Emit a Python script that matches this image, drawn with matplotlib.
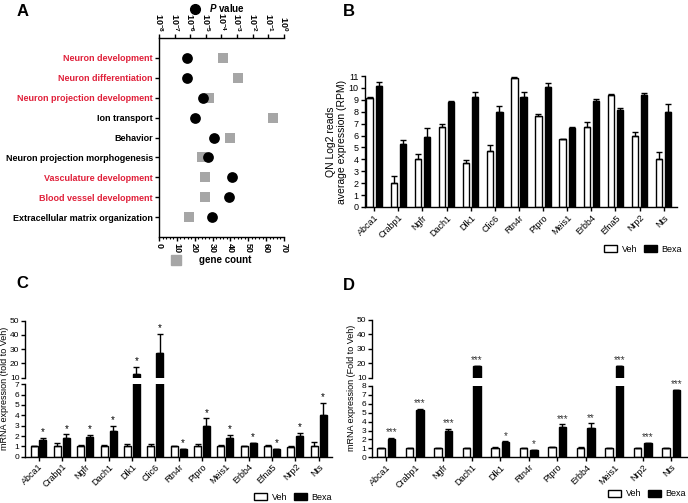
import numpy as np
import matplotlib
matplotlib.use("Agg")
from matplotlib import pyplot as plt
from matplotlib.patches import Patch
from matplotlib.lines import Line2D
from matplotlib.ticker import LogLocator, MultipleLocator, NullFormatter

plt.rcParams["font.family"] = ["Liberation Sans", "DejaVu Sans"]
plt.rcParams["mathtext.fontset"] = "custom"
plt.rcParams["mathtext.rm"] = "Liberation Sans:bold"
plt.rcParams["mathtext.it"] = "Liberation Sans:italic:bold"
plt.rcParams["axes.linewidth"] = 1.0

# ---- panel A: GO terms ----
go_terms = [
    "Neuron development",
    "Neuron differentiation",
    "Neuron projection development",
    "Ion transport",
    "Behavior",
    "Neuron projection morphogenesis",
    "Vasculature development",
    "Blood vessel development",
    "Extracellular matrix organization",
]
go_highlight = [True, True, True, False, False, False, True, True, False]
go_pvals = [5.9e-7, 5.9e-7, 6.3e-6, 2.0e-6, 3.2e-5, 1.3e-5, 4.5e-4, 2.9e-4, 2.3e-5]
go_gene_count = [36, 44, 28, 64, 40, 24, 26, 26, 17]

# ---- panel B: RNA-seq ----
genes_b = ["Abca1", "Crabp1", "Ngfr", "Dach1", "Dlk1", "Clic6", "Rtn4r",
           "Ptpro", "Meis1", "Erbb4", "Efna5", "Nrp2", "Nts"]
veh_b = [9.15, 2.05, 4.05, 6.75, 3.7, 4.7, 10.85, 7.65, 5.7, 6.75, 9.4, 5.95, 4.05]
veh_b_err = [0.1, 0.55, 0.4, 0.2, 0.25, 0.5, 0.05, 0.2, 0.05, 0.35, 0.1, 0.35, 0.6]
bexa_b = [10.15, 5.3, 5.85, 8.8, 9.25, 7.95, 9.2, 10.1, 6.65, 8.9, 8.15, 9.4, 7.95]
bexa_b_err = [0.35, 0.3, 0.75, 0.1, 0.4, 0.55, 0.45, 0.3, 0.1, 0.2, 0.15, 0.2, 0.7]

# ---- panel C: qPCR ----
genes_c = genes_b
veh_c = [1.0, 1.0, 1.0, 1.0, 1.0, 1.0, 1.0, 1.0, 1.0, 1.0, 1.0, 0.95, 1.0]
veh_c_err = [0.05, 0.3, 0.15, 0.15, 0.2, 0.2, 0.05, 0.2, 0.1, 0.02, 0.1, 0.1, 0.45]
bexa_c = [1.65, 1.8, 1.95, 2.45, 12.6, 27.5, 0.7, 3.0, 1.8, 1.3, 0.7, 2.0, 4.0]
bexa_c_err = [0.2, 0.35, 0.15, 0.55, 5.1, 13.1, 0.05, 0.7, 0.3, 0.05, 0.05, 0.3, 1.2]
stars_c = ["*"] * 13

# ---- panel D: qPCR ----
genes_d = ["Abca1", "Crabp1", "Ngfr", "Dach1", "Dlk1", "Rtn4r", "Ptpro",
           "Erbb4", "Meis1", "Nrp2", "Nts"]
veh_d = [1.0, 1.0, 1.0, 1.0, 1.05, 1.0, 1.15, 1.05, 1.0, 1.0, 1.05]
veh_d_err = [0.03, 0.02, 0.05, 0.02, 0.08, 0.02, 0.06, 0.08, 0.02, 0.02, 0.04]
bexa_d = [2.1, 5.3, 2.95, 17.8, 1.7, 0.8, 3.45, 3.25, 17.8, 1.55, 7.5]
bexa_d_err = [0.06, 0.15, 0.2, 0.4, 0.08, 0.03, 0.25, 0.55, 0.4, 0.05, 0.06]
stars_d = ["***", "***", "***", "***", "*", "*", "***", "**", "***", "***", "***"]

W, H = 688, 503
fig = plt.figure(figsize=(W / 100, H / 100), dpi=100)


def px_axes(x0, y0, x1, y1):
    return fig.add_axes([x0 / W, 1 - y1 / H, (x1 - x0) / W, (y1 - y0) / H])


def style_ticks(ax, size=6.5, pad=1.5):
    ax.tick_params(direction="out", length=3, width=1, labelsize=size, pad=pad)


# ================= A =================
ax = px_axes(159, 38, 284, 237)
rows = np.arange(1, len(go_terms) + 1)
ax.scatter(go_gene_count, rows, marker="s", s=60, color="#a6a6a6",
           linewidths=0, zorder=2)
ax.set_xlim(0, 70)
ax.set_ylim(10, 0)
ax.set_yticks(rows)
ax.set_yticklabels(go_terms, fontweight="bold", fontsize=6.5)
for lbl, hl in zip(ax.get_yticklabels(), go_highlight):
    lbl.set_color("#e0203a" if hl else "black")
ax.set_xticks(range(0, 71, 10))
ax.set_xticklabels([str(v) for v in range(0, 71, 10)], rotation=-90,
                   fontweight="bold")
ax.xaxis.set_minor_locator(MultipleLocator(2))
ax.spines["right"].set_visible(False)
ax.spines["top"].set_visible(False)
style_ticks(ax, 6.5)
ax.tick_params(axis="x", which="major", pad=1)
ax.tick_params(axis="x", which="minor", length=1.5, width=0.8)

ax2 = ax.twiny()
ax2.set_xscale("log")
ax2.set_xlim(1e-8, 1)
ax2.scatter(go_pvals, rows, marker="o", s=60, color="black", linewidths=0,
            zorder=3)
decades = list(range(-8, 1))
ax2.set_xticks([10.0 ** k for k in decades])
ax2.set_xticklabels([f"$10^{{{k}}}$" for k in decades], rotation=-90)
ax2.xaxis.set_minor_locator(LogLocator(base=10, subs=np.arange(2, 10)))
ax2.xaxis.set_minor_formatter(NullFormatter())
for s in ("right", "bottom", "left"):
    ax2.spines[s].set_visible(False)
style_ticks(ax2, 6.5)
ax2.tick_params(axis="x", which="minor", length=1.5, width=0.8)

fig.legend(handles=[Line2D([], [], marker="o", ls="", color="black",
                           markersize=7, label=r"$\it{P}$ value")],
           loc="center", bbox_to_anchor=(215 / W, 1 - 8 / H), frameon=False,
           prop={"weight": "bold", "size": 7}, handletextpad=0.4,
           borderaxespad=0, borderpad=0)
fig.legend(handles=[Line2D([], [], marker="s", ls="", color="#a6a6a6",
                           markersize=7, label="gene count")],
           loc="center", bbox_to_anchor=(209 / W, 1 - 260 / H), frameon=False,
           prop={"weight": "bold", "size": 7}, handletextpad=1.3,
           borderaxespad=0, borderpad=0)

# ================= B =================
axB = px_axes(365, 76, 677, 207)
xb = np.arange(len(genes_b))
off, bw = 0.19, 0.26
axB.bar(xb - off, veh_b, bw, color="white", edgecolor="black", linewidth=1)
axB.bar(xb + off, bexa_b, bw, color="black", edgecolor="black", linewidth=1)
axB.errorbar(xb - off, veh_b, yerr=[np.zeros(len(xb)), veh_b_err], fmt="none",
             ecolor="black", elinewidth=1, capsize=2, capthick=1)
axB.errorbar(xb + off, bexa_b, yerr=[np.zeros(len(xb)), bexa_b_err], fmt="none",
             ecolor="black", elinewidth=1, capsize=2, capthick=1)
axB.set_xlim(-0.38, len(xb) - 0.45)
axB.set_ylim(0, 11)
axB.set_yticks(range(0, 12))
axB.set_xticks(xb)
axB.set_xticklabels(genes_b, rotation=45, ha="right", rotation_mode="anchor")
axB.spines["right"].set_visible(False)
axB.spines["top"].set_visible(False)
style_ticks(axB, 6.5)
axB.set_ylabel("QN Log2 reads\naverage expression (RPM)", fontsize=7.5,
               labelpad=1)

veh_handle = Patch(facecolor="white", edgecolor="black", linewidth=1, label="Veh")
bexa_handle = Patch(facecolor="black", edgecolor="black", linewidth=1, label="Bexa")


def bar_legend(rx, cy):
    fig.legend(handles=[veh_handle, bexa_handle], loc="center right",
               bbox_to_anchor=(rx / W, 1 - cy / H), ncol=2, frameon=False,
               fontsize=6.5, handlelength=1.4, handleheight=0.75,
               handletextpad=0.5, columnspacing=0.8, borderpad=0,
               borderaxespad=0)


bar_legend(682, 249)


# ================= broken panels C / D =================
def broken_panel(x0, x1, y_top, y_brk_hi, y_brk_lo, y_bot, low_max,
                 genes, veh, veh_err, bexa, bexa_err, stars, xlim, off, bw,
                 star_color):
    up = px_axes(x0, y_top, x1, y_brk_hi)
    lo = px_axes(x0, y_brk_lo, x1, y_bot)
    x = np.arange(len(genes))
    for a in (up, lo):
        a.bar(x - off, veh, bw, color="white", edgecolor="black", linewidth=1)
        a.bar(x + off, bexa, bw, color="black", edgecolor="black", linewidth=1)
        a.errorbar(x - off, veh, yerr=[np.zeros(len(x)), veh_err], fmt="none",
                   ecolor="black", elinewidth=1, capsize=2, capthick=1)
        a.errorbar(x + off, bexa, yerr=[np.zeros(len(x)), bexa_err],
                   fmt="none", ecolor="black", elinewidth=1, capsize=2,
                   capthick=1)
        a.set_xlim(*xlim)
        a.spines["right"].set_visible(False)
        a.spines["top"].set_visible(False)
        style_ticks(a, 6, pad=1)
    up.set_ylim(10, 50)
    up.set_yticks([10, 20, 30, 40, 50])
    up.spines["bottom"].set_visible(False)
    up.set_xticks([])
    lo.set_ylim(0, low_max)
    lo.set_yticks(range(0, low_max + 1))
    lo.set_xticks(x)
    lo.set_xticklabels(genes, rotation=45, ha="right", rotation_mode="anchor",
                       fontsize=6.5)
    for xi, top, s in zip(x, np.array(bexa) + np.array(bexa_err), stars):
        a = up if top > low_max else lo
        a.annotate(s, (xi + off, top), xytext=(0, 0.5),
                   textcoords="offset points", ha="center", va="bottom",
                   fontsize=7, color=star_color)
    return up, lo


broken_panel(25, 332, 320.7, 377.7, 384.3, 456.7, 7,
             genes_c, veh_c, veh_c_err, bexa_c, bexa_c_err, stars_c,
             (-0.58, 12.57), 0.19, 0.3, "black")
fig.text(5 / W, 1 - 388 / H, "mRNA expression (fold to Veh)", rotation=90,
         ha="center", va="center", fontsize=6.5)
bar_legend(332, 497)

broken_panel(372, 687, 320, 377.7, 386, 457.3, 8,
             genes_d, veh_d, veh_d_err, bexa_d, bexa_d_err, stars_d,
             (-0.5, 10.55), 0.18, 0.26, "#333333")
fig.text(352 / W, 1 - 388 / H, "mRNA expression (Fold to Veh)", rotation=90,
         ha="center", va="center", fontsize=6.5)
bar_legend(686, 494)

# panel letters
for letter, (lx, ly) in {"A": (23, 12), "B": (349, 11), "C": (22, 283),
                         "D": (349, 285)}.items():
    fig.text(lx / W, 1 - ly / H, letter, fontsize=12, fontweight="bold",
             ha="center", va="center")

fig.savefig("out.png", dpi=100)
